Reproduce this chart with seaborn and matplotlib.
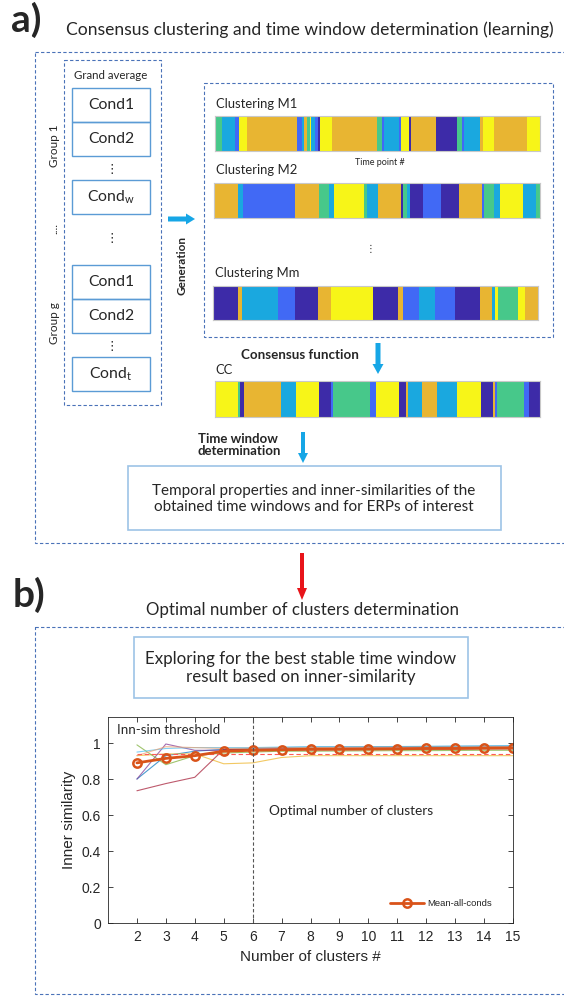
import numpy as np
import pandas as pd
import matplotlib
matplotlib.use("Agg")
import matplotlib.pyplot as plt
from matplotlib.colors import ListedColormap
from matplotlib.patches import Rectangle, FancyArrow
import seaborn as sns

# ---------------- data ----------------
# cluster palette (parula-like)
cluster_colors = ["#3d2ba8", "#4169f5", "#1aa8df", "#47c88a", "#e8b532", "#f7f518"]
# 0 dark, 1 blue, 2 cyan, 3 green, 4 gold, 5 yellow
m1_labels = [3, 2, 1, 5, 4, 1, 2, 4, 3, 5, 2, 1, 0, 5, 4, 3, 1, 2, 1, 5, 0, 4, 0, 3, 1, 2, 4, 5, 4, 5]
m1_lengths = [7, 13, 4, 8, 50, 5, 2, 3, 3, 1, 4, 3, 2, 12, 45, 6, 2, 15, 2, 8, 2, 25, 21, 5, 2, 16, 3, 11, 33, 13]
m2_labels = [4, 2, 1, 4, 3, 2, 5, 3, 2, 4, 0, 3, 2, 0, 1, 0, 4, 1, 3, 2, 5, 2, 3]
m2_lengths = [24, 5, 51, 24, 10, 5, 30, 3, 10, 23, 2, 4, 3, 13, 18, 18, 23, 2, 9, 6, 23, 13, 4]
mm_labels = [0, 4, 2, 1, 0, 4, 5, 0, 4, 1, 2, 1, 0, 4, 2, 5, 3, 5, 4]
mm_lengths = [24, 4, 36, 16, 23, 12, 42, 24, 5, 16, 15, 20, 24, 12, 3, 3, 19, 7, 13]
cc_labels = [5, 3, 0, 4, 2, 5, 0, 1, 3, 1, 5, 0, 4, 2, 4, 2, 5, 0, 4, 1, 3, 1, 0]
cc_lengths = [23, 2, 4, 37, 15, 23, 12, 2, 37, 6, 23, 7, 2, 14, 15, 20, 24, 12, 2, 2, 27, 5, 11]

n_clusters = [2, 3, 4, 5, 6, 7, 8, 9, 10, 11, 12, 13, 14, 15]
mean_all_conds = [0.89, 0.915, 0.93, 0.955, 0.96, 0.963, 0.966, 0.966, 0.967, 0.968, 0.970, 0.970, 0.972, 0.973]
cond_a = [0.80, 0.93, 0.955, 0.965, 0.970, 0.975, 0.978, 0.978, 0.979, 0.980, 0.981, 0.982, 0.983, 0.984]
cond_b = [0.93, 0.94, 0.94, 0.885, 0.89, 0.92, 0.93, 0.93, 0.93, 0.93, 0.93, 0.93, 0.93, 0.93]
cond_c = [0.80, 0.995, 0.96, 0.96, 0.965, 0.97, 0.97, 0.972, 0.973, 0.974, 0.975, 0.975, 0.976, 0.977]
cond_d = [0.99, 0.88, 0.93, 0.945, 0.95, 0.955, 0.955, 0.956, 0.957, 0.958, 0.958, 0.959, 0.960, 0.960]
cond_e = [0.95, 0.97, 0.975, 0.975, 0.975, 0.978, 0.979, 0.980, 0.980, 0.981, 0.982, 0.983, 0.984, 0.985]
cond_f = [0.735, 0.775, 0.81, 0.965, 0.965, 0.96, 0.962, 0.963, 0.964, 0.965, 0.966, 0.967, 0.968, 0.968]
cond_g = [0.93, 0.98, 0.975, 0.97, 0.972, 0.974, 0.975, 0.976, 0.977, 0.977, 0.978, 0.978, 0.979, 0.979]
cond_names = ["c1", "c2", "c3", "c4", "c5", "c6", "c7"]
cond_colors = ["#0072BD", "#EDB120", "#7E2F8E", "#77AC30", "#4DBEEE", "#A2142F", "#F0A070"]
threshold = 0.94
optimal_k = 6
y_ticks = [0, 0.2, 0.4, 0.6, 0.8, 1]
y_ticklabels = ["0", "0.2", "0.4", "0.6", "0.8", "1"]

# ---------------- figure ----------------
sns.set_theme(style="white")
W, H = 564, 996
fig = plt.figure(figsize=(W / 100, H / 100), dpi=100)
fig.patch.set_facecolor("white")

DIAG = ["Lato", "DejaVu Sans"]
CHART = ["Liberation Sans", "DejaVu Sans"]

bg = fig.add_axes([0, 0, 1, 1])
bg.set_xlim(0, W)
bg.set_ylim(H, 0)
bg.axis("off")

DASH = "#4a72b8"
LBOX = "#9dc3e6"
CBOX = "#5b9bd5"
ARROW_BLUE = "#16a6e6"


def dashed_box(x0, y0, x1, y1):
    bg.add_patch(Rectangle((x0, y0), x1 - x0, y1 - y0, fill=False, ec=DASH,
                           lw=0.8, ls=(0, (3, 2))))


def solid_box(x0, y0, x1, y1, color=LBOX, lw=1.2):
    bg.add_patch(Rectangle((x0, y0), x1 - x0, y1 - y0, fill=False, ec=color, lw=lw))


def txt(x, y, s, size, **kw):
    kw.setdefault("family", DIAG)
    bg.text(x, y, s, fontsize=size, **kw)


# ---- panel a ----
txt(11, 20, "a)", 28, weight="bold", va="center", ha="left")
txt(66, 30, "Consensus clustering and time window determination (learning)", 12.6,
    va="center", ha="left")
dashed_box(35, 52, 566, 543)

# grand average column
dashed_box(64, 60, 161, 405)
txt(111, 75, "Grand average", 8.3, ha="center", va="center")
cond_boxes = [(88, 122, "Cond1"), (122, 156, "Cond2"), (180, 214, "Cond$_\\mathregular{w}$"),
              (265, 299, "Cond1"), (299, 333, "Cond2"), (357, 391, "Cond$_\\mathregular{t}$")]
for y0, y1, lab in cond_boxes:
    solid_box(72, y0, 150, y1, color=CBOX, lw=1.0)
    txt(111, (y0 + y1) / 2, lab, 11.3, ha="center", va="center")
for yd in (169, 238, 346):
    txt(112, yd, "⋮", 9, ha="center", va="center", family=["DejaVu Sans"])
txt(54, 146, "Group 1", 8.5, rotation=90, ha="center", va="center")
txt(54, 228, "....", 8.5, rotation=90, ha="center", va="center")
txt(54, 323, "Group g", 8.5, rotation=90, ha="center", va="center")

bg.add_patch(FancyArrow(168, 219, 27, 0, width=5, head_width=11, head_length=9,
                        length_includes_head=True, color=ARROW_BLUE, lw=0))
txt(182, 265, "Generation", 8.5, weight="bold", rotation=90, ha="center", va="center")

# clusterings box
dashed_box(204, 83, 553, 337)
txt(216, 104, "Clustering M1", 9.4, ha="left", va="center")
txt(380, 162, "Time point #", 6.5, ha="center", va="center")
txt(216, 170, "Clustering M2", 9.4, ha="left", va="center")
txt(370, 249, "⋮", 7, ha="center", va="center", family=["DejaVu Sans"])
txt(215, 273, "Clustering Mm", 9.4, ha="left", va="center")

bg.add_patch(FancyArrow(378, 343, 0, 31, width=5, head_width=11, head_length=10,
                        length_includes_head=True, color=ARROW_BLUE, lw=0))
txt(241, 355, "Consensus function", 9.6, weight="bold", ha="left", va="center")
txt(215, 370, "CC", 9.4, ha="left", va="center")

txt(198, 445, "Time window\ndetermination", 9.5, weight="bold", ha="left", va="center",
    linespacing=1.05)
bg.add_patch(FancyArrow(303, 432, 0, 31, width=4, head_width=10, head_length=10,
                        length_includes_head=True, color=ARROW_BLUE, lw=0))
solid_box(128, 466, 501, 530)
txt(314, 499, "Temporal properties and inner-similarities of the\nobtained time windows and for ERPs of interest",
    11, ha="center", va="center", linespacing=1.15)

# red arrow between panels
bg.add_patch(FancyArrow(302, 553, 0, 47, width=4, head_width=10, head_length=12,
                        length_includes_head=True, color="#e8141a", lw=0))

# ---- panel b ----
txt(13, 595, "b)", 28, weight="bold", va="center", ha="left")
txt(303, 610, "Optimal number of clusters determination", 12.2, ha="center", va="center")
dashed_box(35, 627, 566, 994)
solid_box(134, 637, 468, 698)
txt(301, 668, "Exploring for the best stable time window\nresult based on inner-similarity",
    12.2, ha="center", va="center", linespacing=1.12)


# ---------------- cluster bars ----------------
def px_axes(x0, y0, x1, y1):
    return fig.add_axes([x0 / W, 1 - y1 / H, (x1 - x0) / W, (y1 - y0) / H])


cmap = ListedColormap(cluster_colors)
bars = [
    ((215, 116, 540, 151), m1_labels, m1_lengths),
    ((214, 183, 540, 218), m2_labels, m2_lengths),
    ((213, 286, 538, 320), mm_labels, mm_lengths),
    ((215, 381, 540, 417), cc_labels, cc_lengths),
]
for (x0, y0, x1, y1), labs, lens in bars:
    ax = px_axes(x0, y0, x1, y1)
    seq = np.repeat(labs, lens)[None, :]
    sns.heatmap(seq, ax=ax, cmap=cmap, vmin=-0.5, vmax=5.5, cbar=False,
                xticklabels=False, yticklabels=False)
    n = seq.shape[1]
    ax.set_xticks(np.linspace(0, n, 11)[1:-1])
    ax.set_yticks([0.5])
    ax.tick_params(axis="both", direction="in", length=2.5, width=0.5, color="#555555",
                   labelbottom=False, labelleft=False, top=True, right=True, bottom=True, left=True)
    for s in ax.spines.values():
        s.set_visible(True)
        s.set_color("#c8c8c8")
        s.set_linewidth(0.8)

# ---------------- line chart ----------------
axc = px_axes(108, 717, 513, 923)
rows = []
conds = [cond_a, cond_b, cond_c, cond_d, cond_e, cond_f, cond_g]
for name, vals in zip(cond_names, conds):
    for k, v in zip(n_clusters, vals):
        rows.append({"k": k, "sim": v, "cond": name})
df = pd.DataFrame(rows)
sns.lineplot(data=df, x="k", y="sim", hue="cond", palette=cond_colors, ax=axc,
             lw=0.8, alpha=0.7, legend=False)
axc.axhline(threshold, xmin=(2 - 1) / 14, xmax=1, color="#ff5a5a", ls=(0, (4, 2.5)), lw=0.8)
dfm = pd.DataFrame({"k": n_clusters, "sim": mean_all_conds})
sns.lineplot(data=dfm, x="k", y="sim", ax=axc, color="#D95319", lw=2.0, marker="o",
             markersize=6, markerfacecolor="none", markeredgecolor="#D95319",
             markeredgewidth=1.8, label="Mean-all-conds")
axc.axvline(optimal_k, color="#555555", ls=(0, (3, 2)), lw=0.8)

axc.set_xlim(1, 15)
axc.set_ylim(0, 1.145)
axc.set_xticks(n_clusters)
axc.set_xticklabels([str(k) for k in n_clusters], family=CHART, fontsize=10, color="#262626")
axc.set_yticks(y_ticks)
axc.set_yticklabels(y_ticklabels, family=CHART, fontsize=10, color="#262626")
axc.tick_params(direction="in", length=3.5, width=0.6, color="#262626",
                top=True, right=True, bottom=True, left=True, pad=5)
for s in axc.spines.values():
    s.set_visible(True)
    s.set_color("#262626")
    s.set_linewidth(0.6)
axc.set_xlabel("Number of clusters #", family=CHART, fontsize=11, color="#262626", labelpad=4)
axc.set_ylabel("Inner similarity", family=CHART, fontsize=11, color="#262626", labelpad=4)
axc.text(1.3, 1.075, "Inn-sim threshold", family=DIAG, fontsize=9.6, ha="left", va="center")
axc.text(6.55, 0.62, "Optimal number of clusters", family=DIAG, fontsize=9.8, ha="left", va="center")
leg = axc.legend(loc="lower right", bbox_to_anchor=(0.97, 0.03), frameon=False,
                 prop={"family": CHART, "size": 6.8}, handlelength=3.6, handletextpad=0.4)

fig.savefig("out.png", dpi=100, facecolor="white")
